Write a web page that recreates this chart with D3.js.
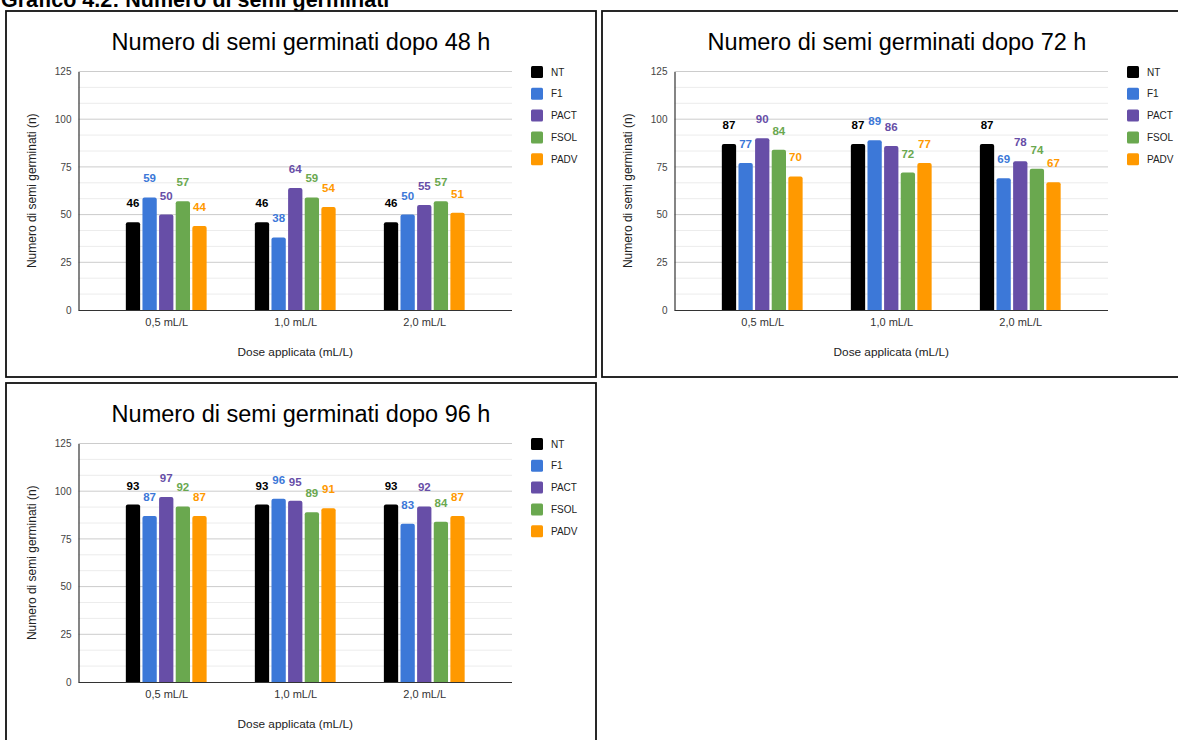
<!DOCTYPE html>
<html>
<head>
<meta charset="utf-8">
<script src="https://cdn.jsdelivr.net/npm/d3@7"></script>
<style>
  html, body { margin: 0; padding: 0; background: #fff; }
  svg { display: block; font-family: Arial, "Liberation Sans", sans-serif; }
</style>
</head>
<body>
<svg id="chart" width="1178" height="740"></svg>
<script>
// Dose categories shown on every x axis
const categories = ["0,5 mL/L", "1,0 mL/L", "2,0 mL/L"];

// Treatment series
const seriesNames = ["NT", "F1", "PACT", "FSOL", "PADV"];

// Germinated seeds per series (rows) and dose (columns)
const values48h = [
  [46, 46, 46],
  [59, 38, 50],
  [50, 64, 55],
  [57, 59, 57],
  [44, 54, 51]
];
const values72h = [
  [87, 87, 87],
  [77, 89, 69],
  [90, 86, 78],
  [84, 72, 74],
  [70, 77, 67]
];
const values96h = [
  [93, 93, 93],
  [87, 96, 83],
  [97, 95, 92],
  [92, 89, 84],
  [87, 91, 87]
];

const chartTitles = [
  "Numero di semi germinati dopo 48 h",
  "Numero di semi germinati dopo 72 h",
  "Numero di semi germinati dopo 96 h"
];

const yTicks = [0, 25, 50, 75, 100, 125];
const yMinorTicks = d3.range(0, 125.01, 25 / 3);

const pageTitle = "Grafico 4.2: Numero di semi germinati";
const xAxisTitle = "Dose applicata (mL/L)";
const yAxisTitle = "Numero di semi germinati (n)";

// Series colours
const seriesColors = ["#000000", "#3c78d8", "#674ea7", "#6aa84f", "#ff9900"];

const svg = d3.select("#chart");

svg.append("rect").attr("width", 1178).attr("height", 740).attr("fill", "#fff");

// Heading above the panels
svg.append("text")
  .attr("x", 1)
  .attr("y", 7)
  .attr("font-size", 21.5)
  .attr("font-weight", "bold")
  .attr("fill", "#000")
  .text(pageTitle);

// Panel frames and inner layout
const panelW = 590, panelH = 366;
const panels = [
  { x: 6, y: 11, values: values48h, title: chartTitles[0] },
  { x: 602, y: 11, values: values72h, title: chartTitles[1] },
  { x: 6, y: 383, values: values96h, title: chartTitles[2] }
];

const plotLeft = 72.5, plotRight = 506, plotTop = 60.5, plotBottom = 299;

const y = d3.scaleLinear().domain([0, 125]).range([plotBottom, plotTop]);
const x0 = d3.scalePoint().domain(categories).range([plotLeft, plotRight]).padding(0.68);
const x1 = d3.scaleBand().domain(seriesNames).range([-40.4, 40.4]).paddingInner(0.14);
const color = d3.scaleOrdinal().domain(seriesNames).range(seriesColors);

function barPath(xl, yt, w, yb, r) {
  r = Math.min(r, w / 2, (yb - yt));
  return `M${xl},${yb}V${yt + r}Q${xl},${yt} ${xl + r},${yt}H${xl + w - r}Q${xl + w},${yt} ${xl + w},${yt + r}V${yb}Z`;
}

panels.forEach(p => {
  const g = svg.append("g").attr("transform", `translate(${p.x},${p.y})`);

  // frame
  g.append("rect")
    .attr("x", 0).attr("y", 0)
    .attr("width", panelW).attr("height", panelH)
    .attr("fill", "#fff")
    .attr("stroke", "#111")
    .attr("stroke-width", 1.8);

  // chart title
  g.append("text")
    .attr("x", 295)
    .attr("y", 39)
    .attr("text-anchor", "middle")
    .attr("font-size", 23.5)
    .attr("fill", "#000")
    .text(p.title);

  // minor gridlines
  g.append("g").selectAll("line")
    .data(yMinorTicks.filter(v => !yTicks.some(t => Math.abs(t - v) < 0.01)))
    .join("line")
    .attr("x1", plotLeft).attr("x2", plotRight)
    .attr("y1", d => y(d)).attr("y2", d => y(d))
    .attr("stroke", "#ececec").attr("stroke-width", 1);

  // major gridlines
  g.append("g").selectAll("line")
    .data(yTicks.filter(t => t > 0))
    .join("line")
    .attr("x1", plotLeft).attr("x2", plotRight)
    .attr("y1", d => y(d)).attr("y2", d => y(d))
    .attr("stroke", "#cccccc").attr("stroke-width", 1);

  // y axis with tick labels
  const yAxis = d3.axisLeft(y).tickValues(yTicks).tickSize(0).tickPadding(7);
  const ya = g.append("g").attr("transform", `translate(${plotLeft},0)`).call(yAxis);
  ya.select(".domain").attr("stroke", "#333").attr("stroke-width", 1.2);
  ya.selectAll("text").attr("font-size", 10).attr("fill", "#444").attr("font-family", "Arial, sans-serif");

  // bars
  const groups = g.append("g").selectAll("g")
    .data(categories)
    .join("g")
    .attr("transform", d => `translate(${x0(d)},0)`);

  groups.each(function (cat, ci) {
    const gg = d3.select(this);
    const rows = seriesNames.map((s, si) => ({ s, v: p.values[si][ci] }));
    gg.selectAll("path")
      .data(rows)
      .join("path")
      .attr("d", d => barPath(x1(d.s), y(d.v), x1.bandwidth(), y(0), 2))
      .attr("fill", d => color(d.s));
    gg.selectAll("text")
      .data(rows)
      .join("text")
      .attr("x", d => x1(d.s) + x1.bandwidth() / 2)
      .attr("y", d => y(d.v) - 15)
      .attr("text-anchor", "middle")
      .attr("font-size", 11.5)
      .attr("font-weight", "bold")
      .attr("fill", d => color(d.s))
      .text(d => d.v);
  });

  // x axis baseline and category labels
  const xAxis = d3.axisBottom(x0).tickSize(0).tickPadding(8);
  const xa = g.append("g").attr("transform", `translate(0,${plotBottom})`).call(xAxis);
  xa.select(".domain").attr("d", `M${plotLeft},0.5H${plotRight}`).attr("stroke", "#333").attr("stroke-width", 1.2);
  xa.selectAll("text").attr("font-size", 11).attr("fill", "#333").attr("font-family", "Arial, sans-serif");

  // axis titles
  g.append("text")
    .attr("x", (plotLeft + plotRight) / 2)
    .attr("y", 345)
    .attr("text-anchor", "middle")
    .attr("font-size", 11.8)
    .attr("fill", "#222")
    .text(xAxisTitle);

  g.append("text")
    .attr("transform", `translate(30,${(plotTop + plotBottom) / 2}) rotate(-90)`)
    .attr("text-anchor", "middle")
    .attr("font-size", 12)
    .attr("fill", "#222")
    .text(yAxisTitle);

  // legend
  const leg = g.append("g").attr("transform", "translate(525,55)");
  const items = leg.selectAll("g")
    .data(seriesNames)
    .join("g")
    .attr("transform", (d, i) => `translate(0,${i * 21.8})`);
  items.append("rect")
    .attr("x", 0).attr("y", 0)
    .attr("width", 12).attr("height", 12)
    .attr("rx", 1.5)
    .attr("fill", d => color(d));
  items.append("text")
    .attr("x", 20).attr("y", 6)
    .attr("dy", "0.35em")
    .attr("font-size", 10)
    .attr("fill", "#222")
    .text(d => d);
});
</script>
</body>
</html>
